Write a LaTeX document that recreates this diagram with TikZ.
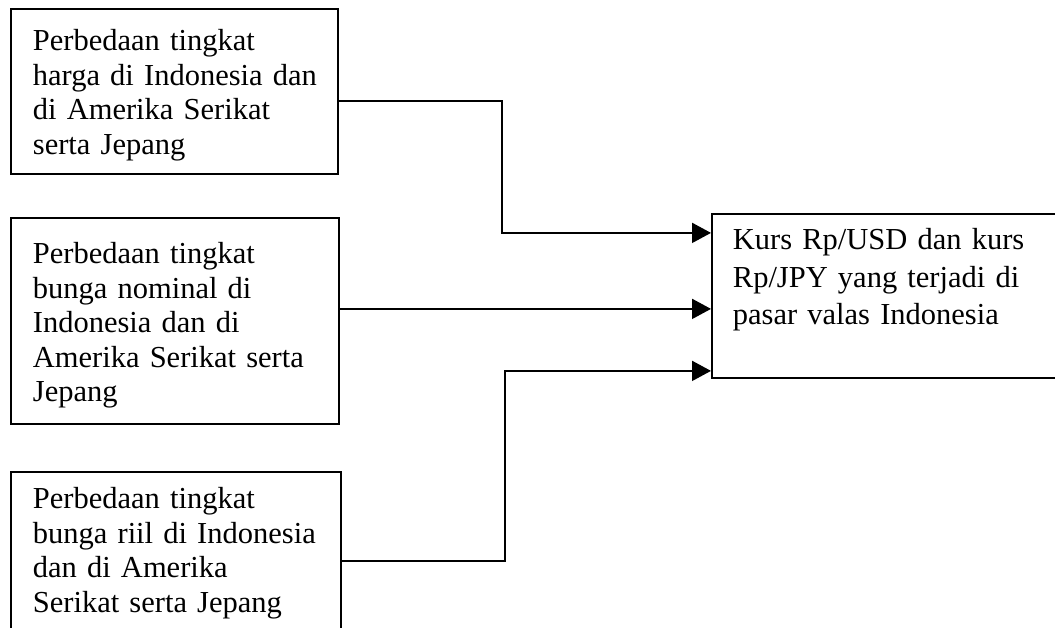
\documentclass[tikz,border=0pt]{standalone}
\usepackage{fontspec}
\setmainfont[WordSpace=0.85]{Liberation Serif}
\usetikzlibrary{arrows.meta, positioning}

\begin{document}
\begin{tikzpicture}[
    x=1pt, y=-1pt,
    factor/.style={rectangle, draw=black, line width=1.8pt, anchor=north west, align=left, inner xsep=22pt, inner ysep=0pt, font=\fontsize{30.5}{34.5}\selectfont},
    result/.style={rectangle, draw=black, line width=1.8pt, anchor=north west, align=left, inner xsep=21pt, inner ysep=0pt, text width=370pt, font=\fontsize{30.5}{37.5}\selectfont},
    link/.style={-{Triangle[length=19pt, width=20pt]}, line width=1.9pt}
]
\useasboundingbox (0,0) rectangle (1055,628);
\clip (0,0) rectangle (1055,628);

% Factors & Result Layout
\node[factor, text width=283pt] (harga) at (10, 8) {\rule{0pt}{42pt}Perbedaan tingkat\\ \mbox{harga di Indonesia dan}\\ di Amerika Serikat\\ serta Jepang\rule[-19.5pt]{0pt}{0pt}};
\node[factor, text width=284pt] (nominal) at (10, 217) {\rule{0pt}{46pt}Perbedaan tingkat\\ bunga nominal di\\ Indonesia dan di\\ \mbox{Amerika Serikat serta}\\ Jepang\rule[-22pt]{0pt}{0pt}};
\node[factor, text width=286pt] (riil) at (10, 471) {\rule{0pt}{37pt}Perbedaan tingkat\\ \mbox{bunga riil di Indonesia}\\ dan di Amerika\\ \mbox{Serikat serta Jepang}\rule[-30.5pt]{0pt}{0pt}};
\node[result] (kurs) at (711, 213) {\rule{0pt}{36pt}Kurs Rp/USD dan kurs\\ Rp/JPY yang terjadi di\\ pasar valas Indonesia\rule[-53pt]{0pt}{0pt}};

% Links
\draw[link] ([yshift=-9.5pt]harga.east) -- ++(163,0) |- ([yshift=63pt]kurs.west);
\draw[link] ([yshift=12pt]nominal.east) -- ([yshift=-13pt]kurs.west);
\draw[link] ([yshift=-3.5pt]riil.east) -- ++(163,0) |- ([yshift=-75pt]kurs.west);

\end{tikzpicture}
\end{document}
